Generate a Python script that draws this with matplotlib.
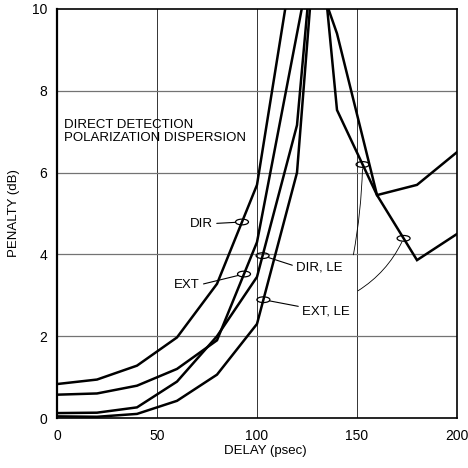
import numpy as np
import matplotlib
matplotlib.use("Agg")
import matplotlib.pyplot as plt
from matplotlib.patches import Ellipse

plt.rcParams["font.family"] = ["Liberation Sans", "DejaVu Sans"]

# penalty (dB) vs delay (psec)
dir_x = [0, 20, 40, 60, 80, 100, 120]
dir_y = [0.83, 0.94, 1.28, 1.97, 3.28, 5.7, 11.8]

ext_x = [0, 20, 40, 60, 80, 100, 120, 140]
ext_y = [0.57, 0.60, 0.79, 1.20, 1.90, 4.3, 9.4, 14.5]

dir_le_x = [0, 20, 40, 60, 80, 100, 120, 130, 140, 160, 180, 200]
dir_le_y = [0.12, 0.13, 0.26, 0.89, 2.0, 3.45, 7.16, 12.6, 7.53, 5.45, 5.7, 6.5]

ext_le_x = [0, 20, 40, 60, 80, 100, 120, 130, 135, 140, 160, 180, 200]
ext_le_y = [0.04, 0.03, 0.10, 0.42, 1.06, 2.3, 6.0, 12.2, 10.1, 9.4, 5.45, 3.86, 4.5]

# curve labels: text, label anchor, marker delay
labels = ["DIR", "EXT", "DIR, LE", "EXT, LE"]
label_x = [77.8, 71.2, 119.7, 122.7]
label_y = [4.68, 3.18, 3.60, 2.52]
mark_x = [92.5, 93.5, 102.8, 103.2]

# second markers on the right branch of the LE curves + their thin leaders
right_mark_x = [152.8, 173.3]
right_lead_x = [148.2, 150.5]
right_lead_y = [3.99, 3.11]

x_ticks = [0, 50, 100, 150, 200]
y_ticks = [0, 2, 4, 6, 8, 10]

fig = plt.figure(figsize=(4.68, 4.68), dpi=100)
ax = fig.add_axes([57 / 468, 50 / 468, 400 / 468, 409 / 468])

ax.set_xlim(0, 200)
ax.set_ylim(0, 10)
ax.set_xticks(x_ticks)
ax.set_yticks(y_ticks)
ax.tick_params(axis="both", length=0, labelsize=10)
ax.tick_params(axis="x", pad=8)
ax.tick_params(axis="y", pad=7)

for v in x_ticks[1:-1]:
    ax.axvline(v, color="0.2", lw=0.7, zorder=1)
for v in y_ticks[1:-1]:
    ax.axhline(v, color="0.45", lw=0.9, zorder=1)
for s in ax.spines.values():
    s.set_linewidth(1.2)
ax.spines["left"].set_linewidth(1.6)

series = [(dir_x, dir_y), (ext_x, ext_y), (dir_le_x, dir_le_y), (ext_le_x, ext_le_y)]
for xs, ys in series:
    ax.plot(xs, ys, color="black", lw=1.8, solid_joinstyle="miter", zorder=3)

# left markers with labels
relpos = [(1, 0.5), (1, 0.5), (0, 0.6), (0, 0.9)]
for i, (xs, ys) in enumerate(series):
    my = np.interp(mark_x[i], xs, ys)
    ax.add_patch(Ellipse((mark_x[i], my), 6.5, 0.14, fill=False, lw=0.9,
                         color="black", zorder=4))
    ax.annotate(labels[i], xy=(mark_x[i], my), xytext=(label_x[i], label_y[i]),
                ha="right" if i < 2 else "left", va="baseline", fontsize=9.5,
                arrowprops=dict(arrowstyle="-", lw=0.8, color="black",
                                relpos=relpos[i], shrinkA=1, shrinkB=4.5))

# right markers on the LE curves
rads = [0.04, 0.15]
for j, (xs, ys) in enumerate(series[2:]):
    my = np.interp(right_mark_x[j], xs, ys)
    ax.add_patch(Ellipse((right_mark_x[j], my), 6.5, 0.14, fill=False, lw=0.9,
                         color="black", zorder=4))
    ax.annotate("", xy=(right_mark_x[j], my), xytext=(right_lead_x[j], right_lead_y[j]),
                arrowprops=dict(arrowstyle="-", lw=0.6, color="black",
                                connectionstyle=f"arc3,rad={rads[j]}",
                                shrinkA=0, shrinkB=3))

ax.text(3.5, 7.10, "DIRECT DETECTION", fontsize=9.5)
ax.text(3.5, 6.77, "POLARIZATION DISPERSION", fontsize=9.5)

ax.set_xlabel("DELAY (psec)", fontsize=9.5)
ax.xaxis.set_label_coords(0.52, -0.066)
ax.set_ylabel("PENALTY (dB)", fontsize=9.5)
ax.yaxis.set_label_coords(-0.092, 0.5)

fig.savefig("out.png", dpi=100)
